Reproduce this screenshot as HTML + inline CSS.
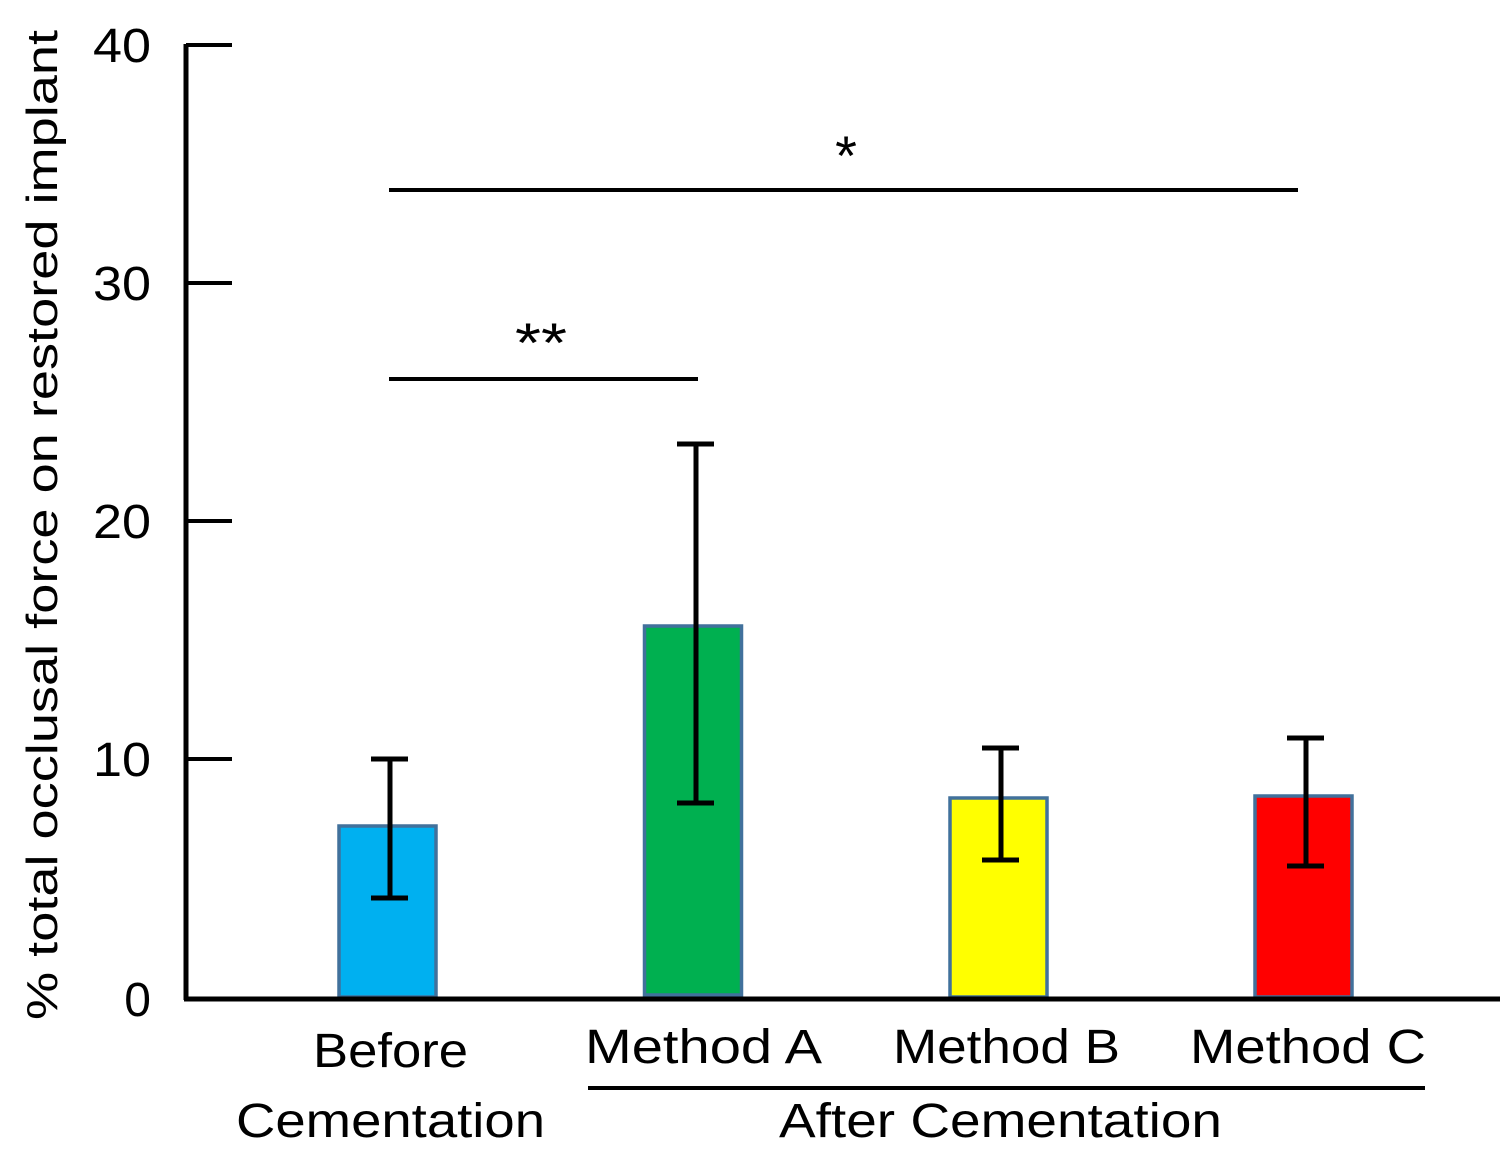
<!DOCTYPE html>
<html><head><style>html,body{margin:0;padding:0;background:#fff}svg{display:block}</style></head>
<body>
<svg width="1500" height="1159" viewBox="0 0 1500 1159" xmlns="http://www.w3.org/2000/svg" font-family="'Liberation Sans','DejaVu Sans',sans-serif" fill="#000">
<rect x="339" y="826" width="97" height="171" fill="#00b0f0" stroke="#41719c" stroke-width="3.5"/>
<rect x="644.5" y="626" width="97" height="369" fill="#00b050" stroke="#41719c" stroke-width="3.5"/>
<rect x="950" y="798" width="97" height="199" fill="#ffff00" stroke="#41719c" stroke-width="3.5"/>
<rect x="1255" y="796" width="97" height="201" fill="#ff0000" stroke="#41719c" stroke-width="3.5"/>
<line x1="186" y1="44" x2="186" y2="1000" stroke="#000" stroke-width="5"/>
<line x1="184" y1="999" x2="1500" y2="999" stroke="#000" stroke-width="5"/>
<g stroke="#000" stroke-width="4">
<line x1="186" y1="45" x2="232" y2="45"/>
<line x1="186" y1="283" x2="232" y2="283"/>
<line x1="186" y1="521" x2="232" y2="521"/>
<line x1="186" y1="759" x2="232" y2="759"/>
</g>
<g font-size="48" text-anchor="end">
<text x="151" y="62" textLength="58" lengthAdjust="spacingAndGlyphs">40</text>
<text x="151" y="300" textLength="58" lengthAdjust="spacingAndGlyphs">30</text>
<text x="151" y="538" textLength="58" lengthAdjust="spacingAndGlyphs">20</text>
<text x="151" y="776" textLength="58" lengthAdjust="spacingAndGlyphs">10</text>
<text x="151" y="1016">0</text>
</g>
<text transform="translate(57,525) rotate(-90)" font-size="44" text-anchor="middle" textLength="990" lengthAdjust="spacingAndGlyphs">% total occlusal force on restored implant</text>
<g stroke="#000" stroke-width="5">
<line x1="390" y1="759" x2="390" y2="898"/><line x1="371" y1="759" x2="408" y2="759"/><line x1="371" y1="898" x2="408" y2="898"/>
<line x1="696" y1="444" x2="696" y2="803"/><line x1="677" y1="444" x2="714" y2="444"/><line x1="677" y1="803" x2="714" y2="803"/>
<line x1="1001" y1="748" x2="1001" y2="860"/><line x1="982" y1="748" x2="1019" y2="748"/><line x1="982" y1="860" x2="1019" y2="860"/>
<line x1="1306" y1="738" x2="1306" y2="866"/><line x1="1287" y1="738" x2="1324" y2="738"/><line x1="1287" y1="866" x2="1324" y2="866"/>
</g>
<g stroke="#000" stroke-width="4">
<line x1="389" y1="379" x2="698" y2="379"/>
<line x1="389" y1="190" x2="1298" y2="190"/>
<line x1="588" y1="1088" x2="1425" y2="1088"/>
</g>
<text x="541" y="362" font-size="56" text-anchor="middle" textLength="52" lengthAdjust="spacingAndGlyphs">**</text>
<text x="846" y="175" font-size="56" text-anchor="middle">*</text>
<g font-size="48">
<text x="313" y="1067" textLength="155" lengthAdjust="spacingAndGlyphs">Before</text>
<text x="236" y="1137" textLength="309" lengthAdjust="spacingAndGlyphs">Cementation</text>
<text x="585" y="1063" textLength="237" lengthAdjust="spacingAndGlyphs">Method A</text>
<text x="893" y="1063" textLength="227" lengthAdjust="spacingAndGlyphs">Method B</text>
<text x="1190" y="1063" textLength="236" lengthAdjust="spacingAndGlyphs">Method C</text>
<text x="779" y="1137" textLength="443" lengthAdjust="spacingAndGlyphs">After Cementation</text>
</g>
</svg>
</body></html>
